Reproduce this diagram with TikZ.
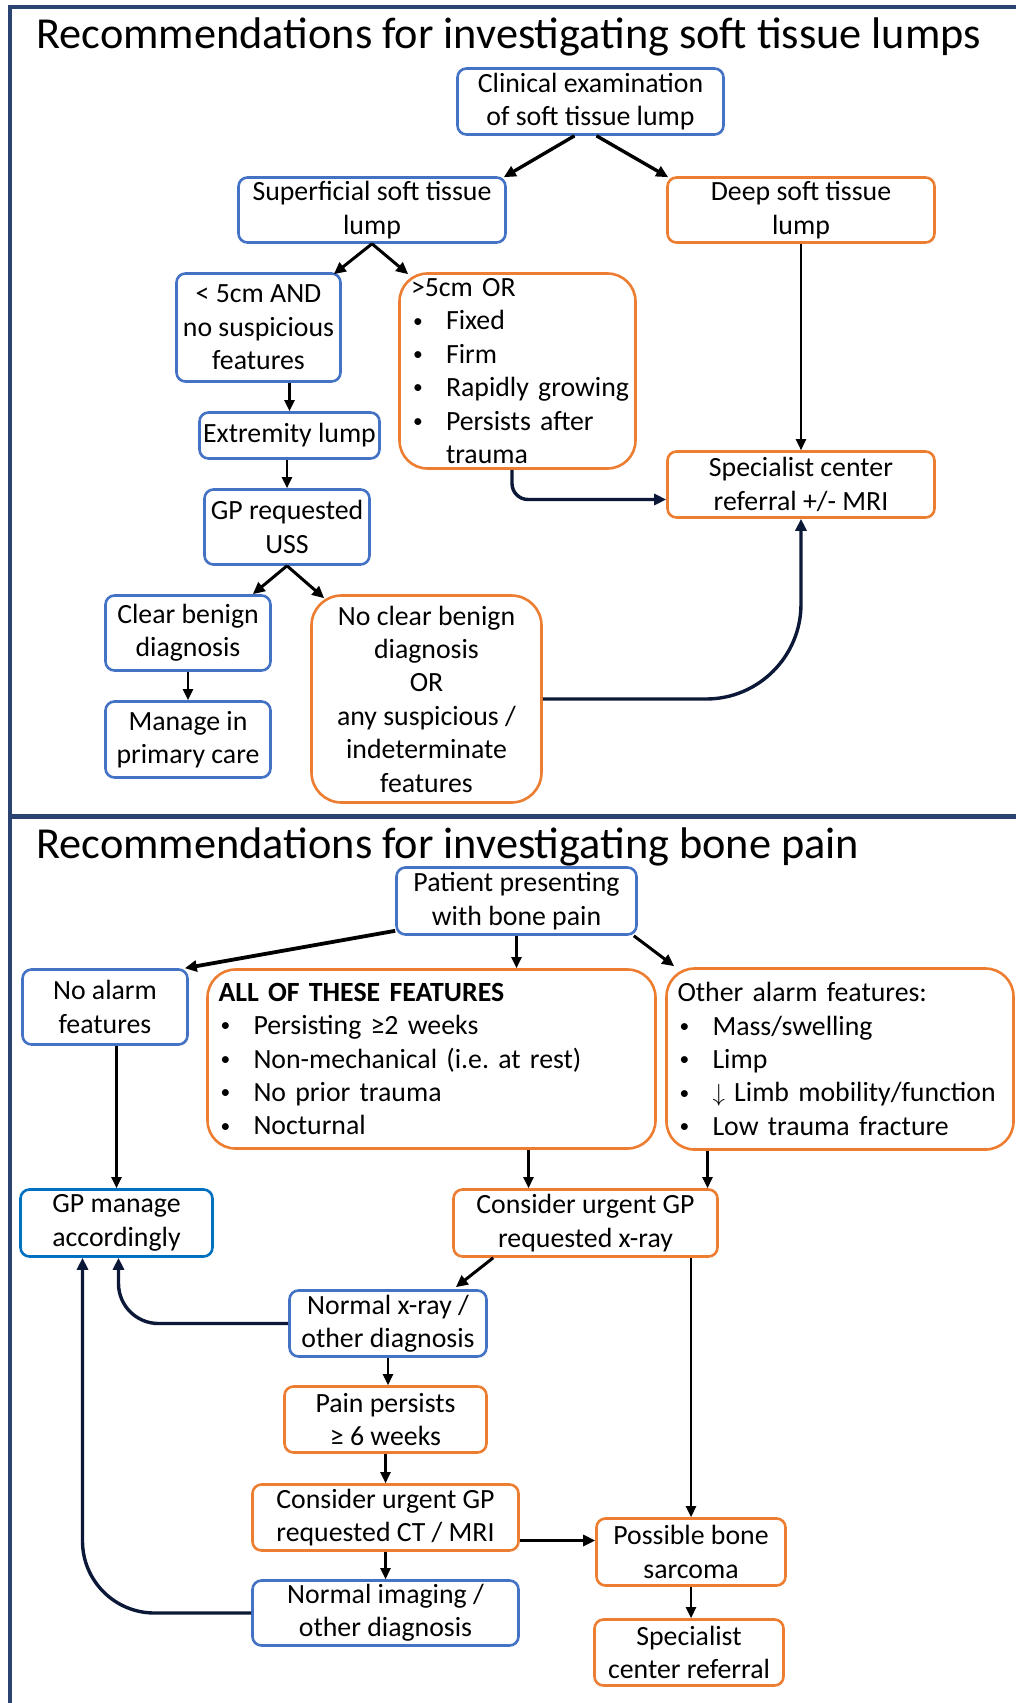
\documentclass[tikz,border=0pt]{standalone}
\usepackage{fontspec}
\usepackage{graphicx}
\setmainfont{Carlito}
\frenchspacing
\usetikzlibrary{arrows.meta,calc}

\definecolor{boxblue}{RGB}{68,114,196}
\definecolor{gpblue}{RGB}{0,112,192}
\definecolor{boxorange}{RGB}{237,125,49}
\definecolor{framenavy}{RGB}{42,67,112}
\definecolor{curvenavy}{RGB}{12,24,56}

\newcommand{\boxfont}{\fontsize{27.8}{33.4}\selectfont}
\newcommand{\titlefont}{\fontsize{44.3}{53}\selectfont}
\newcommand{\bul}[1]{\mbox{\makebox[35pt][l]{\hspace{2pt}\raisebox{0.1em}{\scalebox{0.7}{\textbullet}}}#1}}
\newcommand{\hang}[1]{\mbox{\hspace*{35pt}#1}}

\tikzset{every picture/.style={line width=1pt}}
\tikzset{
  bluebox/.style={draw=boxblue, line width=2.6pt, rounded corners=9pt, align=center, inner sep=2pt, font=\boxfont},
  orangebox/.style={bluebox, draw=boxorange},
  listbox/.style={orangebox, rounded corners=28pt, align=left, inner xsep=11pt, inner ysep=0pt},
  sz/.style 2 args={minimum width=#1pt, minimum height=#2pt},
  arr/.style={-{Triangle[length=12pt,width=11pt]}, line width=3pt},
  thinarr/.style={-{Triangle[length=11pt,width=10pt]}, line width=2.4pt},
  bendarr/.style={-{Triangle[length=12pt,width=11pt]}, draw=curvenavy, line width=3.4pt},
  framerule/.style={draw=framenavy, line width=4pt},
}

\begin{document}
\begin{tikzpicture}[x=1pt,y=1pt,yscale=-1,xscale=1]
\path[use as bounding box] (0,0) rectangle (1016,1703);

%Frame
\draw[framerule] (10,1703) -- (10,7) -- (1016,7);
\draw[framerule, line width=5pt] (10,816) -- (1016,816);

% Text Node
\node[anchor=base west, font=\titlefont, inner sep=0pt] (title1) at (36,48) {Recommendations for investigating soft tissue lumps};

%Soft tissue boxes
\node[bluebox, sz={266}{66}] (clin) at (590.5,101.5) {Clinical examination\\of soft tissue lump};
\node[bluebox, sz={267}{65}] (sup) at (372,210) {Superficial soft tissue\\lump};
\node[orangebox, sz={267}{65}] (deep) at (801,210) {Deep soft tissue\\lump};
\node[bluebox, sz={164}{108}] (lt5) at (258.5,327.5) {< 5cm AND\\no suspicious\\features};
\node[listbox, text width=213pt, sz={236}{195}] (gt5) at (517.5,371) {>5cm OR\\\bul{Fixed}\\\bul{Firm}\\\bul{Rapidly growing}\\\bul{Persists after}\\\hang{trauma}};
\node[bluebox, sz={180}{46}] (ext) at (289.5,435.5) {Extremity lump};
\node[bluebox, sz={165}{75}] (gp) at (287,527) {GP requested\\USS};
\node[orangebox, sz={267}{66}] (spec) at (801,484.5) {Specialist center\\referral +/- MRI};
\node[bluebox, sz={165}{75}] (clear) at (188,633) {Clear benign\\diagnosis};
\node[bluebox, sz={165}{76}] (manage) at (188,739.5) {Manage in\\primary care};
\node[orangebox, rounded corners=30pt, sz={230}{207}] (noclear) at (426.5,699) {No clear benign\\diagnosis\\OR\\any suspicious /\\indeterminate\\features};

%Soft tissue arrows
\draw[arr, line width=3.4pt] ($(clin.south)+(-16,0)$) -- ($(sup.north east)+(-3,1)$);
\draw[arr, line width=3.4pt] ($(clin.south)+(6,0)$) -- ($(deep.north west)+(2,1)$);
\draw[arr] (sup.south) -- ($(lt5.north east)+(-8,2)$);
\draw[arr] (sup.south) -- ($(gt5.north west)+(10,2)$);
\draw[thinarr] (lt5.south -| ext.north) -- (ext.north);
\draw[thinarr] (ext.south -| gp.north) -- (gp.north);
\draw[arr] (gp.south) -- ($(clear.north east)+(-19,0)$);
\draw[arr] (gp.south) -- ($(noclear.north west)+(14,4)$);
\draw[thinarr] (clear.south) -- (manage.north);
\draw[thinarr, line width=2pt] (deep.south) -- (spec.north);
\draw[bendarr, rounded corners=16pt] ($(gt5.south)+(-5.5,0)$) |- ($(spec.west)+(0,15)$);
\draw[bendarr, rounded corners=95pt] (noclear.east) -| (spec.south);

% Text Node
\node[anchor=base west, font=\titlefont, inner sep=0pt] (title2) at (36,858) {Recommendations for investigating bone pain};

%Bone pain boxes
\node[bluebox, sz={240}{67}] (pat) at (516.5,901) {Patient presenting\\with bone pain};
\node[bluebox, sz={165}{75}] (noalarm) at (105,1007) {No alarm\\features};
\node[listbox, text width=426pt, sz={448}{179}] (all) at (431.5,1059) {\textbf{ALL OF THESE FEATURES}\\\bul{Persisting ≥2 weeks}\\\bul{Non-mechanical (i.e. at rest)}\\\bul{No prior trauma}\\\bul{Nocturnal}};
\node[listbox, text width=325pt, sz={347}{181}] (other) at (840,1059) {Other alarm features:\\\bul{Mass/swelling}\\\bul{Limp}\\\bul{$\downarrow$ Limb mobility/function}\\\bul{Low trauma fracture}};
\node[bluebox, draw=gpblue, sz={192}{67}] (gpm) at (116.5,1223) {GP manage\\accordingly};
\node[orangebox, sz={264}{67}] (cxr) at (585.5,1223) {Consider urgent GP\\requested x-ray};
\node[bluebox, sz={197}{66}] (nxr) at (388,1323.5) {Normal x-ray /\\other diagnosis};
\node[orangebox, sz={202}{66}] (pain) at (385.5,1419.5) {Pain persists\\≥ 6 weeks};
\node[orangebox, sz={266}{66}] (ct) at (385.5,1517.5) {Consider urgent GP\\requested CT / MRI};
\node[orangebox, sz={189}{67}] (pbs) at (691,1552) {Possible bone\\sarcoma};
\node[bluebox, sz={266}{65}] (ni) at (385.5,1613) {Normal imaging /\\other diagnosis};
\node[orangebox, sz={189}{66}] (scr) at (689,1652.5) {Specialist\\center referral};

%Bone pain arrows
\coordinate (cxa) at ($(cxr.north)+(-57,0)$);
\coordinate (cxb) at ($(cxr.north)+(122,0)$);
\coordinate (ctr) at ($(ct.east)+(0,23)$);
\draw[arr, line width=3.8pt] ($(pat.south west)+(0,-5)$) -- ($(noalarm.north east)+(-4,0)$);
\draw[thinarr] (pat.south) -- (pat.south |- all.north);
\draw[arr] ($(pat.south east)+(-4,0)$) -- ($(other.north west)+(9,-1)$);
\draw[thinarr] (noalarm.south -| gpm.north) -- (gpm.north);
\draw[thinarr] (cxa |- all.south) -- (cxa);
\draw[thinarr] (cxb |- other.south) -- (cxb);
\draw[arr] ($(cxr.south west)+(41,0)$) -- ($(nxr.north east)+(-32,-2)$);
\draw[thinarr] (pbs.north |- cxr.south) -- (pbs.north);
\draw[bendarr, rounded corners=40pt] (nxr.west) -| ($(gpm.south)+(2,0)$);
\draw[thinarr] (nxr.south) -- (nxr.south |- pain.north);
\draw[thinarr] (pain.south) -- (ct.north);
\draw[arr, line width=3.8pt] (ctr) -- (ctr -| pbs.west);
\draw[thinarr] (ct.south) -- (ni.north);
\draw[bendarr, rounded corners=72pt] (ni.west) -| ($(gpm.south)+(-34,0)$);
\draw[thinarr] (pbs.south) -- (pbs.south |- scr.north);

\end{tikzpicture}
\end{document}
